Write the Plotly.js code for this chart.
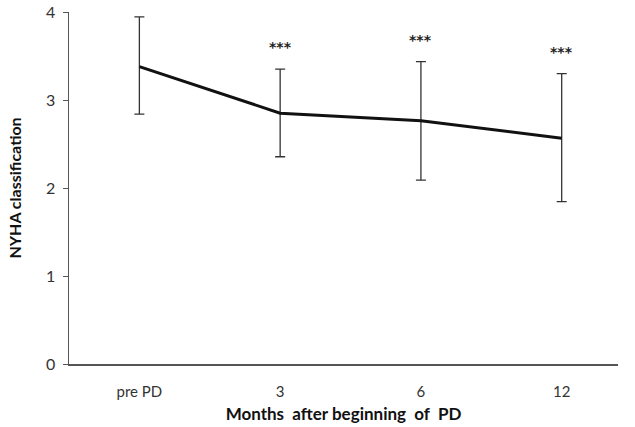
<!DOCTYPE html>
<html>
<head>
<meta charset="utf-8">
<script src="https://cdn.plot.ly/plotly-3.0.1.min.js"></script>
<style>html,body{margin:0;padding:0;background:#fff;}#chart{width:635px;height:427px;}</style>
</head>
<body>
<div id="chart"></div>
<script>
const categories = ["pre PD", "3", "6", "12"];
const meanNYHA = [3.38, 2.85, 2.765, 2.565];
const errUpper = [0.565, 0.50, 0.67, 0.735];
const errLower = [0.54, 0.495, 0.675, 0.72];
const sigLabels = ["", "***", "***", "***"];
const yTicks = [0, 1, 2, 3, 4];

const trace = {
  x: categories,
  y: meanNYHA,
  type: 'scatter',
  mode: 'lines',
  line: {color: '#111', width: 3},
  error_y: {type: 'data', symmetric: false, array: errUpper, arrayminus: errLower,
            color: '#333', thickness: 1.3, width: 5},
  hoverinfo: 'skip'
};

const annotations = [];
categories.forEach((c, i) => {
  if (sigLabels[i]) {
    annotations.push({x: i, y: meanNYHA[i] + errUpper[i], yshift: 22, text: sigLabels[i],
      showarrow: false, font: {family: 'DejaVu Sans', size: 14, color: '#222', weight: 'bold'}});
  }
});

const layout = {
  width: 635, height: 427,
  margin: {l: 69, r: 17, t: 12, b: 63},
  paper_bgcolor: '#fff', plot_bgcolor: '#fff',
  showlegend: false,
  font: {family: 'Lato, Open Sans, sans-serif', color: '#333'},
  xaxis: {
    type: 'category', range: [-0.5, 3.4],
    showline: true, linecolor: '#555', linewidth: 1.5,
    showgrid: false, zeroline: false, ticks: '',
    ticklabelstandoff: 13,
    tickfont: {size: 15, color: '#333'},
    title: {text: 'Months  after beginning  of  PD', font: {size: 17, color: '#111', family: 'Lato, Open Sans, sans-serif', weight: 'bold'}, standoff: 9}
  },
  yaxis: {
    range: [0, 4], tickvals: yTicks, ticktext: yTicks.map(String),
    showline: true, linecolor: '#555', linewidth: 1.5,
    showgrid: false, zeroline: false,
    ticks: 'outside', ticklen: 5, tickcolor: '#555', tickwidth: 1,
    ticklabelstandoff: 4,
    tickfont: {size: 16, color: '#333'},
    title: {text: 'NYHA classification', font: {size: 16, color: '#111', family: 'Lato, Open Sans, sans-serif', weight: 'bold'}, standoff: 20}
  },
  annotations: annotations
};

Plotly.newPlot('chart', [trace], layout, {displayModeBar: false, staticPlot: true});
</script>
</body>
</html>
